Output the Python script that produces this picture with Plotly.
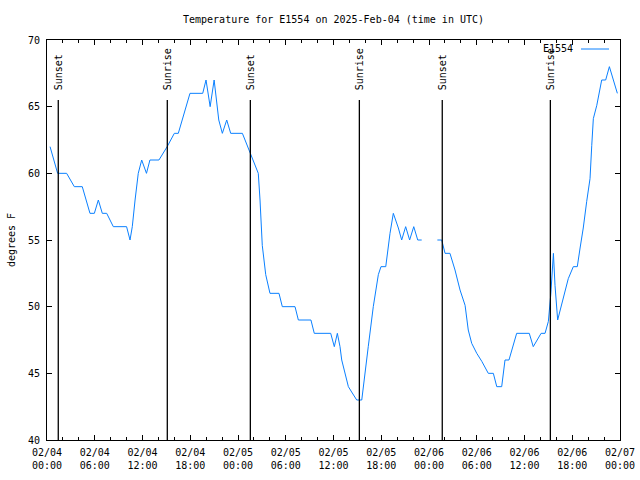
import plotly.graph_objects as go

# ---- data ----
times = [
    "2025-02-04 00:23", "2025-02-04 01:20", "2025-02-04 02:28", "2025-02-04 03:26",
    "2025-02-04 04:26", "2025-02-04 05:24", "2025-02-04 05:57", "2025-02-04 06:27",
    "2025-02-04 06:57", "2025-02-04 07:30", "2025-02-04 08:20", "2025-02-04 10:00",
    "2025-02-04 10:26", "2025-02-04 10:43", "2025-02-04 11:04", "2025-02-04 11:28",
    "2025-02-04 11:54", "2025-02-04 12:30", "2025-02-04 12:56", "2025-02-04 14:04",
    "2025-02-04 15:06", "2025-02-04 16:00", "2025-02-04 16:30", "2025-02-04 17:58",
    "2025-02-04 19:34", "2025-02-04 19:59", "2025-02-04 20:30", "2025-02-04 21:00",
    "2025-02-04 21:35", "2025-02-04 22:02", "2025-02-04 22:35", "2025-02-04 23:05",
    "2025-02-05 00:33", "2025-02-05 01:31", "2025-02-05 02:33", "2025-02-05 02:46",
    "2025-02-05 03:03", "2025-02-05 03:29", "2025-02-05 04:01", "2025-02-05 05:09",
    "2025-02-05 05:34", "2025-02-05 07:10", "2025-02-05 07:35", "2025-02-05 09:10",
    "2025-02-05 09:35", "2025-02-05 11:39", "2025-02-05 12:06", "2025-02-05 12:29",
    "2025-02-05 12:49", "2025-02-05 13:02", "2025-02-05 13:27", "2025-02-05 13:52",
    "2025-02-05 14:17", "2025-02-05 14:55", "2025-02-05 15:33", "2025-02-05 15:52",
    "2025-02-05 16:22", "2025-02-05 17:00", "2025-02-05 17:38", "2025-02-05 17:58",
    "2025-02-05 18:34", "2025-02-05 19:06", "2025-02-05 19:31", "2025-02-05 20:09",
    "2025-02-05 20:34", "2025-02-05 21:04", "2025-02-05 21:34", "2025-02-05 22:05",
    "2025-02-05 22:35", "2025-02-05 23:05", "2025-02-06 00:04",
    "2025-02-06 01:03", "2025-02-06 01:36", "2025-02-06 02:01", "2025-02-06 02:38",
    "2025-02-06 03:16", "2025-02-06 03:54", "2025-02-06 04:32", "2025-02-06 04:56",
    "2025-02-06 05:22", "2025-02-06 06:00", "2025-02-06 06:38", "2025-02-06 07:27",
    "2025-02-06 08:05", "2025-02-06 08:31", "2025-02-06 09:08", "2025-02-06 09:33",
    "2025-02-06 10:03", "2025-02-06 11:01", "2025-02-06 12:36", "2025-02-06 13:06",
    "2025-02-06 14:05", "2025-02-06 14:35", "2025-02-06 15:00", "2025-02-06 15:18",
    "2025-02-06 15:38", "2025-02-06 15:50", "2025-02-06 16:10", "2025-02-06 16:40",
    "2025-02-06 17:30", "2025-02-06 18:08", "2025-02-06 18:38", "2025-02-06 18:59",
    "2025-02-06 19:23", "2025-02-06 19:49", "2025-02-06 20:14", "2025-02-06 20:27",
    "2025-02-06 20:39", "2025-02-06 21:05", "2025-02-06 21:42", "2025-02-06 22:12",
    "2025-02-06 22:40", "2025-02-06 23:40",
]
temps_f = [
    62, 60, 60, 59,
    59, 57, 57, 58,
    57, 57, 56, 56,
    55, 56, 58, 60,
    61, 60, 61, 61,
    62, 63, 63, 66,
    66, 67, 65, 67,
    64, 63, 64, 63,
    63, 61.5, 60, 58,
    54.6, 52.4, 51, 51,
    50, 50, 49, 49,
    48, 48, 47, 48,
    47, 46, 45, 44,
    43.6, 43, 43, 44.4,
    47, 50, 52.4, 53,
    53, 55.5, 57, 55.9,
    55, 56, 55, 56,
    55, 55, None,
    55, 55, 54, 54,
    52.75, 51.25, 50.1, 48.25,
    47.25, 46.5, 45.9, 45,
    45, 44, 44, 46,
    46, 48, 48, 47,
    48, 48, 48.9, 50.9,
    54, 51.6, 49, 50.25,
    52.1, 53, 53, 54.4,
    55.9, 57.9, 59.6, 62.1,
    64.1, 65.1, 67, 67,
    68, 66,
]
series_name = "E1554"

event_times = ["2025-02-04 01:25", "2025-02-04 15:07", "2025-02-05 01:33",
               "2025-02-05 15:15", "2025-02-06 01:40", "2025-02-06 15:15"]
event_labels = ["Sunset", "Sunrise", "Sunset", "Sunrise", "Sunset", "Sunrise"]

title_text = "Temperature for E1554 on 2025-Feb-04 (time in UTC)"
y_title = "degrees F"
y_ticks = [40, 45, 50, 55, 60, 65, 70]

FONT = "DejaVu Sans Mono"
LINE_COLOR = "#0a80ff"

fig = go.Figure()
fig.add_trace(go.Scatter(
    x=times, y=temps_f, mode="lines", name=series_name,
    line=dict(color=LINE_COLOR, width=1), connectgaps=False, showlegend=False,
))

# sunrise / sunset markers
for t, lab in zip(event_times, event_labels):
    fig.add_shape(type="line", xref="x", yref="y", x0=t, x1=t, y0=40, y1=65.5,
                  line=dict(color="black", width=1.3))
    fig.add_annotation(x=t, y=66.1, xref="x", yref="y", text=lab, textangle=-90,
                       showarrow=False, xanchor="center", yanchor="bottom",
                       font=dict(family=FONT, size=10, color="black"))

# gnuplot-style key (text left of sample line)
fig.add_annotation(x=(575 - 47) / 573, y=(440 - 49) / 400, xref="paper", yref="paper",
                   text=series_name, showarrow=False, xanchor="right", yanchor="middle",
                   font=dict(family=FONT, size=10, color="black"))
fig.add_shape(type="line", xref="paper", yref="paper",
              x0=(581 - 47) / 573, x1=(609 - 47) / 573,
              y0=(440 - 49) / 400, y1=(440 - 49) / 400,
              line=dict(color=LINE_COLOR, width=1))

fig.update_layout(
    width=640, height=480,
    margin=dict(l=47, r=20, t=40, b=40, autoexpand=False),
    paper_bgcolor="white", plot_bgcolor="white",
    font=dict(family=FONT, size=10, color="black"),
    title=dict(text=title_text, x=(47 + 573 / 2) / 640, xanchor="center",
               y=1 - 19 / 480, yanchor="middle",
               font=dict(family=FONT, size=10, color="black")),
    showlegend=False,
)
fig.update_xaxes(
    type="date", range=["2025-02-04 00:00", "2025-02-07 00:00"],
    dtick=6 * 3600 * 1000, tick0="2025-02-04 00:00",
    tickformat="%m/%d<br>%H:%M", ticks="inside", ticklen=5, tickcolor="black",
    minor=dict(dtick=2 * 3600 * 1000, ticks="inside", ticklen=3, tickcolor="black"),
    showline=True, linecolor="black", linewidth=1, mirror="allticks",
    showgrid=False, zeroline=False, tickfont=dict(family=FONT, size=10),
    ticklabelstandoff=3, automargin=False,
)
fig.update_yaxes(
    range=[40, 70], tickvals=y_ticks, ticks="inside", ticklen=5, tickcolor="black",
    showline=True, linecolor="black", linewidth=1, mirror="allticks",
    showgrid=False, zeroline=False, tickfont=dict(family=FONT, size=10),
    title=dict(text=y_title, font=dict(family=FONT, size=10), standoff=10),
    ticklabelstandoff=4, automargin=False,
)

fig.write_html("out.html")
